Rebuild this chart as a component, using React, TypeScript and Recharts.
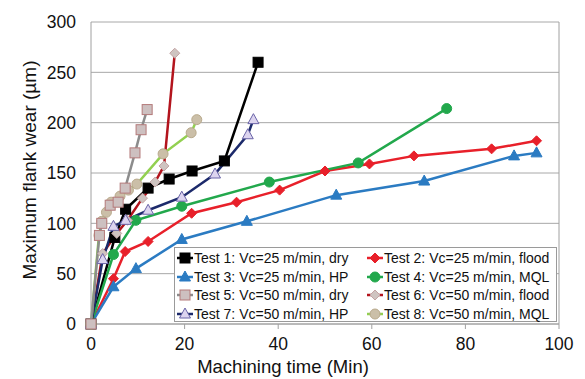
import { LineChart, Line, XAxis, YAxis, CartesianGrid, ReferenceLine, Label } from "recharts";

// [time (min), flank wear (µm)]
const test1 = [[0, 0], [5.1, 86], [7.4, 114], [12.2, 135], [16.7, 144], [21.6, 152], [28.5, 162], [35.7, 260]];
const test2 = [[0, 0], [4.8, 45], [7.3, 72], [12.2, 82], [21.5, 110], [31.1, 121], [40.3, 133], [50, 152], [59.5, 159], [69, 167], [85.6, 174], [95.2, 182]];
const test3 = [[0, 0], [4.8, 37], [9.6, 55], [19.4, 84], [33.3, 102], [52.4, 128], [71.2, 142], [90.4, 167], [95.2, 170]];
const test4 = [[0, 0], [4.8, 69], [9.6, 103], [19.4, 117], [38.1, 141], [57.1, 160], [76, 214]];
const test5 = [[0, 0], [1.8, 88], [2.3, 100], [4.1, 118], [5.8, 121], [7.3, 135], [9.4, 170], [10.7, 193], [12, 213]];
const test6 = [[0, 0], [2.5, 70], [5.5, 90], [7.8, 103], [11, 125], [13.7, 141], [15.6, 157], [17.9, 269]];
const test7 = [[0, 0], [2.5, 64], [4.8, 97], [7.4, 103], [12.2, 113], [19.4, 126], [26.5, 149], [33.5, 188], [34.7, 203]];
const test8 = [[0, 0], [1.7, 88], [2.3, 102], [3.3, 111], [4.3, 121], [6.2, 127], [8, 133], [9.8, 139], [15.4, 169], [21.4, 190], [22.6, 203]];

const xTicks = [0, 20, 40, 60, 80, 100];
const yTicks = [0, 50, 100, 150, 200, 250, 300];

const series = [
  { name: "Test 1: Vc=25 m/min, dry", data: test1, color: "#000000", shape: "square", fill: "#000000", stroke: "#000000" },
  { name: "Test 2: Vc=25 m/min, flood", data: test2, color: "#e8202a", shape: "diamond", fill: "#e8202a", stroke: "#e8202a" },
  { name: "Test 3: Vc=25 m/min, HP", data: test3, color: "#2b7bc2", shape: "triangle", fill: "#2b7bc2", stroke: "#2b7bc2" },
  { name: "Test 4: Vc=25 m/min, MQL", data: test4, color: "#22a84c", shape: "circle", fill: "#22a84c", stroke: "#22a84c" },
  { name: "Test 5: Vc=50 m/min, dry", data: test5, color: "#8c8c8c", shape: "square", fill: "#cdc0c0", stroke: "#b47a7a" },
  { name: "Test 6: Vc=50 m/min, flood", data: test6, color: "#b3141d", shape: "diamond", fill: "#cfc4c1", stroke: "#c4a4a4" },
  { name: "Test 7: Vc=50 m/min, HP", data: test7, color: "#1c2a6b", shape: "triangle", fill: "#dcd4ef", stroke: "#6a64a8" },
  { name: "Test 8: Vc=50 m/min, MQL", data: test8, color: "#92d050", shape: "circle", fill: "#cbbfa8", stroke: "#b9aa8c" },
];

const drawOrder = [0, 1, 2, 3, 5, 6, 7, 4];

const FONT = "'Liberation Sans', Arial, sans-serif";

const Marker = ({ cx, cy, shape, fill, stroke }: any) => {
  const s = 5;
  if (shape === "square") return <rect x={cx - s} y={cy - s} width={2 * s} height={2 * s} fill={fill} stroke={stroke} strokeWidth={1} />;
  if (shape === "diamond") return <polygon points={`${cx},${cy - s} ${cx + s},${cy} ${cx},${cy + s} ${cx - s},${cy}`} fill={fill} stroke={stroke} strokeWidth={1} />;
  if (shape === "triangle") return <polygon points={`${cx},${cy - s - 1} ${cx + s + 0.5},${cy + s - 1} ${cx - s - 0.5},${cy + s - 1}`} fill={fill} stroke={stroke} strokeWidth={1} />;
  return <circle cx={cx} cy={cy} r={s} fill={fill} stroke={stroke} strokeWidth={1} />;
};

const makeDot = (sr: any) => (props: any) => {
  const { cx, cy, index } = props;
  if (cx == null || cy == null) return <g key={index} />;
  return <Marker key={index} cx={cx} cy={cy} shape={sr.shape} fill={sr.fill} stroke={sr.stroke} />;
};

const LegendBox = () => (
  <div
    style={{
      position: "absolute", left: 174, top: 247, width: 383, height: 75,
      background: "#fff", border: "1px solid #9a9a9a", boxSizing: "border-box",
      fontFamily: FONT, fontSize: 14, color: "#111",
      display: "grid", gridTemplateColumns: "190px 190px", gridAutoRows: "18.6px", padding: "1px 0 0 2px",
    }}
  >
    {series.map((sr) => (
      <div key={sr.name} style={{ display: "flex", alignItems: "center", whiteSpace: "nowrap" }}>
        <svg width={16} height={14} style={{ flex: "none" }}>
          <line x1={0} y1={7} x2={16} y2={7} stroke={sr.color} strokeWidth={2.5} />
          <Marker cx={8} cy={7} shape={sr.shape} fill={sr.fill} stroke={sr.stroke} />
        </svg>
        <span style={{ marginLeft: 1 }}>{sr.name}</span>
      </div>
    ))}
  </div>
);

export default function App() {
  return (
    <div style={{ position: "absolute", left: 0, top: 0, width: 585, height: 379, background: "#fff" }}>
      <LineChart width={585} height={379} margin={{ top: 22, right: 26, bottom: 0, left: 0 }}>
        <CartesianGrid vertical={false} stroke="#a8a8a8" strokeWidth={1} />
        <XAxis
          type="number" dataKey="x" domain={[0, 100]} ticks={xTicks} height={55}
          stroke="#a0a0a0" tickSize={5} tickMargin={9}
          tick={{ fill: "#111", fontSize: 17.5, fontFamily: FONT }}
        >
          <Label
            content={() => (
              <text x={283} y={373} textAnchor="middle" fill="#111" fontSize={18.5} fontFamily={FONT}>
                Machining time (Min)
              </text>
            )}
          />
        </XAxis>
        <YAxis
          type="number" domain={[0, 300]} ticks={yTicks} width={91}
          stroke="#a0a0a0" tickLine={false} tickSize={0} tickMargin={15}
          tick={{ fill: "#111", fontSize: 17.5, fontFamily: FONT }}
        >
          <Label
            content={() => (
              <text x={36} y={170} transform="rotate(-90 36 170)" textAnchor="middle" fill="#111" fontSize={19} fontFamily={FONT}>
                Maximum flank wear (µm)
              </text>
            )}
          />
        </YAxis>
        <ReferenceLine x={100} stroke="#a0a0a0" />
        {drawOrder.map((i) => {
          const sr = series[i];
          return (
            <Line
              key={sr.name}
              data={sr.data.map(([x, y]) => ({ x, y }))}
              dataKey="y"
              type="linear"
              stroke={sr.color}
              strokeWidth={2.5}
              dot={makeDot(sr)}
              activeDot={false}
              isAnimationActive={false}
            />
          );
        })}
      </LineChart>
      <LegendBox />
    </div>
  );
}
